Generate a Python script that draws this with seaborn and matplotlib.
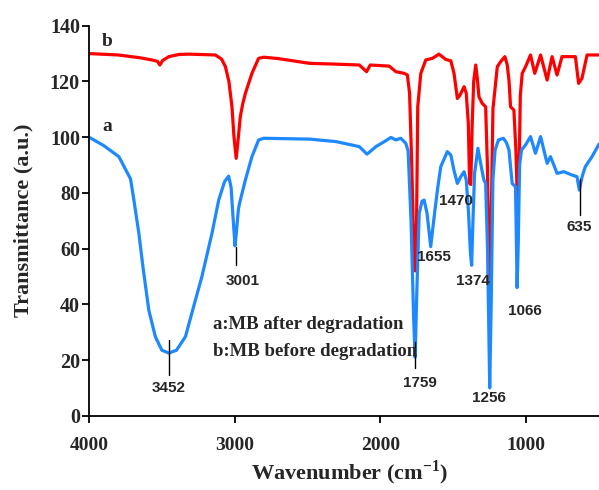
import numpy as np
import pandas as pd
import matplotlib
matplotlib.use("Agg")
import matplotlib.pyplot as plt
import seaborn as sns

# Curve a: MB after degradation (blue)
wn_a = [4000, 3900, 3795, 3715, 3692, 3658, 3630, 3590, 3545, 3500, 3452, 3400, 3338, 3270,
        3225, 3156, 3110, 3070, 3042, 3025, 3010, 2998, 2990, 2975, 2967, 2927, 2882, 2836,
        2800, 2700, 2487, 2305, 2145, 2092, 2031, 1970, 1928, 1894, 1860, 1826, 1810, 1790,
        1772, 1762, 1750, 1734, 1715, 1700, 1680, 1655, 1630, 1609, 1586, 1541, 1517, 1495,
        1472, 1449, 1426, 1411, 1395, 1382, 1374, 1365, 1354, 1331, 1308, 1290, 1278, 1265,
        1250, 1240, 1228, 1213, 1190, 1156, 1135, 1118, 1096, 1073, 1062, 1054, 1045, 1032,
        1004, 970, 936, 901, 856, 833, 810, 788, 742, 685, 651, 635, 615, 594, 548, 500]
t_a = [100, 97, 93, 85, 77.4, 65.5, 53.5, 38, 28.4, 23.5, 22.5, 23.5, 28.4, 41.5,
       50, 65.5, 77.4, 84, 86, 82, 70, 61, 65, 74, 76.2, 84.6, 93, 99,
       99.6, 99.5, 99.3, 98.4, 96.6, 93.9, 96.6, 98.5, 99.9, 99, 99.6, 97.8, 95, 70,
       35, 21, 45, 72.6, 77, 77.4, 72.6, 60.7, 72, 81, 89.4, 94.8, 93.6, 88,
       83.4, 85.8, 87.6, 84.6, 72.6, 58, 54, 70, 87, 96, 89.4, 84.6, 83.4, 60,
       10, 40, 85, 95.4, 99, 99.6, 98, 95.4, 83.4, 82.2, 46, 62, 90, 95.4,
       97.2, 100.2, 94.2, 100.2, 90.6, 93, 90, 87, 87.6, 86.4, 85.8, 81, 86, 89.4, 93, 97.5]

# Curve b: MB before degradation (red)
wn_b = [4000, 3800, 3650, 3568, 3530, 3514, 3495, 3452, 3380, 3316, 3133, 3090, 3064, 3040,
        3019, 3005, 2990, 2975, 2962, 2945, 2927, 2882, 2836, 2800, 2700, 2487, 2300, 2145,
        2095, 2070, 1940, 1894, 1837, 1815, 1800, 1785, 1772, 1762, 1752, 1744, 1723, 1689,
        1643, 1598, 1552, 1517, 1495, 1472, 1455, 1426, 1411, 1397, 1388, 1380, 1370, 1360,
        1346, 1335, 1324, 1301, 1278, 1266, 1250, 1240, 1228, 1198, 1175, 1146, 1130, 1118,
        1107, 1084, 1070, 1058, 1048, 1040, 1027, 1004, 970, 941, 901, 856, 822, 788, 754,
        662, 640, 617, 582, 500]
t_b = [130, 129.5, 128.5, 127.7, 127.2, 125.9, 127.5, 128.9, 129.7, 129.8, 129.5, 128, 125.3, 120,
       110.9, 100, 92.4, 100, 107.3, 112, 115.7, 122.9, 128.3, 128.7, 128.2, 126.5, 126.2, 125.9,
       123.5, 125.9, 125.5, 123.5, 122.9, 122.3, 115.7, 90, 62, 52, 70, 110.9, 122.9, 127.7,
       128.3, 129.8, 127.9, 127.4, 122.9, 113.9, 115, 118.1, 115.7, 105, 83.4, 83, 105, 120,
       125.9, 121, 114.5, 112.1, 110.9, 90, 40, 70, 110, 125.3, 127.1, 128.9, 126, 120.5,
       110.9, 109.7, 95, 72.5, 90, 115, 122.9, 125.3, 129.5, 122.9, 129.5, 120.5, 128.9, 122.3, 128.9,
       128.9, 119.3, 121.1, 129.5, 129.5]

x_ticks = [4000, 3000, 2000, 1000]
y_ticks = [0, 20, 40, 60, 80, 100, 120, 140]

df_a = pd.DataFrame({"wn": wn_a, "T": t_a})
df_b = pd.DataFrame({"wn": wn_b, "T": t_b})

sns.set_style("ticks")
plt.rcParams["font.family"] = ["Liberation Serif", "DejaVu Serif"]
plt.rcParams["mathtext.fontset"] = "custom"
plt.rcParams["mathtext.rm"] = "Liberation Serif"
plt.rcParams["mathtext.bf"] = "Liberation Serif:bold"

fig = plt.figure(figsize=(5.99, 4.90), dpi=100)
ax = fig.add_axes([0.1486, 0.1516, 0.8514, 0.7959])

sns.lineplot(data=df_b, x="wn", y="T", ax=ax, color="#FF0000", lw=2.3, sort=False, estimator=None)
sns.lineplot(data=df_a, x="wn", y="T", ax=ax, color="#1E88FF", lw=2.3, sort=False, estimator=None)

ax.set_xlim(4000, 500)
ax.set_ylim(0, 140)
ax.set_xticks(x_ticks)
ax.set_yticks(y_ticks)
ax.set_xticklabels([str(v) for v in x_ticks], fontsize=14, fontweight="bold")
ax.set_yticklabels([str(v) for v in y_ticks], fontsize=14.5, fontweight="bold")
ax.tick_params(axis="x", direction="out", length=5, width=1.3, color="black", pad=10)
ax.tick_params(axis="y", direction="out", length=5, width=1.3, color="black", pad=1.5)
for s in ["left", "bottom"]:
    ax.spines[s].set_linewidth(1.3)
    ax.spines[s].set_color("black")
sns.despine(ax=ax)

ax.set_xlabel(r"Wavenumber (cm$^{\mathbf{-1}}$)", fontsize=16, fontweight="bold")
ax.xaxis.label.set_verticalalignment("baseline")
ax.xaxis.set_label_coords(0.51, -0.162)
ax.set_ylabel("Transmittance (a.u.)", fontsize=16, fontweight="bold", labelpad=12)

# curve letters
ax.text(3873, 134.2, "b", fontsize=14, fontweight="bold", ha="center", va="center")
ax.text(3873, 104, "a", fontsize=14, fontweight="bold", ha="center", va="center")

# legend text
ax.text(3151, 32.6, "a:MB after degradation", fontsize=13.5, fontweight="bold", ha="left", va="center")
ax.text(3151, 23, "b:MB before degradation", fontsize=13.5, fontweight="bold", ha="left", va="center")

# peak labels
sans = ["Liberation Sans", "DejaVu Sans"]
peaks = [("3452", 3452, 10), ("3001", 2946, 48.5), ("1759", 1731, 11.7), ("1655", 1632, 57),
         ("1374", 1368, 48.5), ("1470", 1485, 77), ("1256", 1255, 6.4), ("1066", 1012, 37.7),
         ("635", 636, 67.7)]
for lab, xx, yy in peaks:
    ax.text(xx, yy, lab, fontsize=11, fontweight="bold", family=sans, ha="center", va="center")

# marker lines
for xx, y0, y1 in [(3452, 14.6, 27.2), (2994, 54.1, 60.7), (1762, 17.1, 26.5), (628, 72, 85)]:
    ax.plot([xx, xx], [y0, y1], color="black", lw=1.0)

fig.savefig("out.png", dpi=100)
